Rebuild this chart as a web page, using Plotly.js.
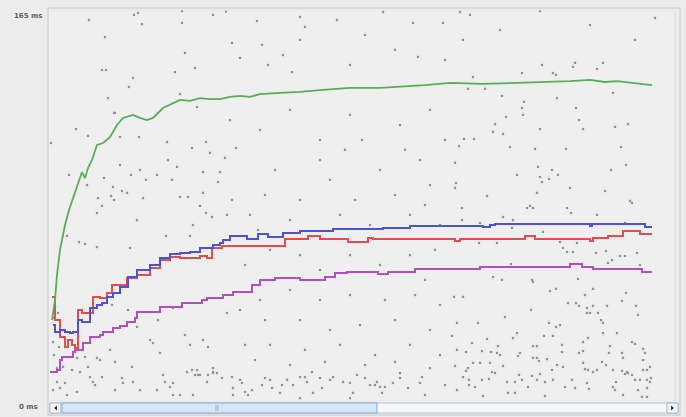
<!DOCTYPE html>
<html>
<head>
<meta charset="utf-8">
<script src="https://cdn.plot.ly/plotly-3.0.1.min.js"></script>
<style>
html,body{margin:0;padding:0;background:#ececec;}
#chart{width:686px;height:417px;}
</style>
</head>
<body>
<div id="chart"></div>
<script>
// Y-axis labels
var yMaxLabel = "165 ms";
var yMinLabel = "0 ms";

// Throughput (green)
var greenSample = [4,7,9,12,15,17,21,25,29,34,37,40,44,49,55,62,69,75,85,92,99,105,115,125,132,142,152,162,172,182,192,202,212,232,252,272,302,332,352,377,402,435,469,502,522,542,557,569,589,604];
var greenMs = [33.8,42.3,52.9,63.5,69.8,74.0,80.4,85.4,90.9,96.4,93.9,98.1,101.5,107.9,108.7,111.2,116.3,119.3,120.6,119.3,118.4,119.3,123.5,125.6,126.9,126.5,127.7,127.3,127.3,128.2,128.6,128.2,129.4,129.9,130.3,131.1,132.0,132.0,132.4,133.2,134.1,133.7,134.1,134.5,134.9,135.4,134.5,134.9,134.1,133.2];

// Average (blue)
var blueSample = [5,7,12,17,22,25,30,34,42,49,54,59,65,72,80,89,102,112,122,132,142,152,165,172,175,182,197,199,209,210,219,220,234,235,249,252,284,285,332,335,359,362,402,435,442,447,540,542,544,595,597,604];
var blueMs = [31.7,28.8,29.6,28.8,28.3,28.8,33.8,33.0,38.9,40.2,41.0,43.6,45.3,47.8,52.0,55.0,57.1,60.1,61.8,62.2,62.6,64.3,65.6,66.4,67.7,69.4,69.4,68.1,68.1,70.2,70.2,68.9,68.9,70.6,70.6,71.5,71.5,72.3,72.3,72.7,72.7,73.6,73.6,73.2,74.0,74.4,74.4,73.6,74.4,74.4,73.2,73.2];

// Deviation (red)
var redSample = [4,7,12,17,20,24,27,30,34,39,45,52,59,64,72,79,89,102,112,122,132,152,159,164,174,235,237,259,260,270,272,299,300,319,320,325,402,407,412,477,487,540,542,545,560,575,592,604];
var redMs = [43.6,33.8,26.6,22.4,25.4,23.3,22.0,38.1,36.8,36.8,43.6,43.1,45.3,48.6,48.6,51.6,52.9,55.8,59.2,60.5,60.1,60.9,60.1,64.3,65.1,65.1,68.1,68.1,69.4,69.4,68.1,68.1,66.8,66.8,68.5,68.1,68.1,67.3,68.1,69.4,68.1,68.1,67.3,68.5,69.4,71.5,70.2,70.2];

// Median (purple)
var purpleSample = [2,9,12,14,25,27,35,42,52,55,65,72,79,87,89,100,112,134,154,159,175,185,204,212,227,252,277,287,299,330,340,367,402,432,522,534,545,594,604];
var purpleMs = [11.8,12.7,16.9,18.2,20.3,21.2,24.1,26.6,27.5,28.8,30.5,31.3,33.0,34.7,37.2,37.2,39.3,41.0,42.3,43.1,44.4,45.7,48.6,50.8,51.6,50.8,52.0,53.7,54.1,53.3,54.1,55.4,55.4,56.3,57.5,56.3,55.4,54.1,54.1];

// Data samples (grey dots)
var dotSample = [
41,86,90,94,134,134,57,137,54,58,85,127,147,81,60,132,149,67,
3,28,40,66,72,91,119,144,158,162,177,188,120,72,92,83,98,109,129,124,155,172,56,21,39,65,74,79,63,50,66,95,132,140,155,170,184,54,49,152,158,164,179,89,145,118,142,19,31,37,49,82,
527,555,494,525,549,474,505,508,425,420,437,565,454,509,476,474,528,475,458,531,447,567,580,492,535,445,455,416,426,411,462,487,518,573,407,578,490,504,563,469,492,510,501,494,408,407,522,557,439,489,582,584,482,479,485,414,519,523,549,465,432,455,414,577,495,464,431,449,512,529,515,519,525,548,558,564,560,572,577,589,592,463,445,454,484,485,508,502,530,545,537,578,406,415,
520,528,531,539,545,559,574,588,539,542,550,483,590,457,409,430,501,508,512,553,555,555,569,404,469,496,505,540,535,439,424,450,465,485,489,514,584,587,562,595,409,418,434,443,449,452,472,470,485,489,491,499,514,531,535,561,574,575,597,595,425,432,442,420,418,455,515,535,537,540,549,554,558,565,574,602,599,595,407,415,444,447,471,484,492,504,509,545,577,579,580,584,587,592,599,603,602,421,421,427,434,441,459,467,474,480,489,497,505,517,524,527,539,541,568,565,567,590,599,599,594,409,435,460,467,497,575,
7,10,6,5,11,6,9,15,9,17,5,12,19,24,29,29,32,37,40,42,45,47,49,52,54,62,64,67,67,74,75,80,84,85,92,102,105,109,112,115,117,122,125,125,132,137,139,142,144,149,152,155,159,160,165,165,174,179,185,192,197,119,125,132,110,89,
145,147,150,160,165,169,184,185,194,197,200,204,214,217,222,224,232,234,239,245,252,257,259,264,265,272,274,282,285,295,302,305,309,317,322,327,329,332,334,337,345,352,352,360,372,374,
165,178,184,209,214,252,257,289,302,317,335,347,365,370,395,397,412,415,252,192,220,235,244,297,314,357,372,332,282,252,217,227,272,307,347,382,377,242,292,322,362,392,202,210,272,252,302,332,362,387,222,197,212,242,272,302,337,367,392,377,192,217,252,282,312,347,382,222,257,292,327,362,392,207,242,277,317,347,382,397,377,302,252,
422,452,492,542,587,607,182,212,242,272,302,352,382,397
];
var dotMs = [
160.7,162.9,163.7,159.0,164.5,159.5,153.5,146.8,139.6,139.6,136.2,138.7,140.4,132.4,127.7,129.4,123.9,121.4,
108.7,114.6,111.7,121.4,111.2,111.2,109.1,106.6,109.1,104.5,102.4,106.6,101.5,99.4,97.3,95.2,93.1,95.2,98.6,93.1,96.4,96.4,93.9,95.2,90.9,90.1,88.4,87.6,86.3,85.4,84.6,85.4,85.9,85.9,87.6,92.2,84.6,82.1,79.1,82.1,79.1,77.4,78.3,76.1,74.0,69.4,69.4,69.4,66.8,66.0,64.7,64.3,
142.6,142.6,141.7,140.9,140.0,138.3,138.3,137.5,136.6,131.6,131.6,129.9,128.6,127.7,126.1,123.5,123.5,120.6,119.7,118.4,116.7,115.5,116.7,114.6,114.6,113.4,112.5,110.4,110.4,107.4,107.0,106.2,106.2,107.0,100.3,99.4,98.6,97.3,97.3,95.2,94.3,95.2,93.5,92.2,91.8,89.7,89.7,88.4,86.3,87.6,84.2,83.3,82.1,81.2,81.2,81.2,81.2,79.1,78.3,76.1,74.9,77.4,76.1,74.9,71.1,72.8,66.4,66.4,66.8,66.4,64.3,62.6,62.6,62.2,63.0,59.2,58.0,60.9,60.9,62.2,57.1,57.5,52.0,50.8,50.8,49.9,47.0,46.1,51.2,47.0,44.4,45.3,43.6,43.6,
41.0,41.0,39.8,38.9,39.8,39.8,41.9,39.8,36.8,36.8,36.8,38.1,36.0,35.1,32.6,32.6,32.6,30.9,31.7,33.8,32.6,28.3,28.3,27.1,28.3,27.1,27.1,26.2,24.5,25.8,24.1,22.8,26.2,22.8,22.8,23.3,24.5,23.7,22.8,21.6,21.2,20.3,20.7,20.3,19.9,19.0,19.9,18.6,17.8,17.8,16.5,17.3,20.3,19.9,20.7,19.9,19.9,17.8,19.9,16.9,15.7,15.7,15.7,13.5,12.3,14.4,14.0,15.7,13.1,12.7,12.7,16.1,14.8,12.7,12.3,14.0,12.7,12.7,14.4,9.7,11.8,11.4,10.6,10.2,11.0,12.7,14.8,11.8,11.0,11.8,11.4,10.6,8.5,8.5,8.5,9.3,7.6,8.5,6.3,5.5,8.5,8.9,7.6,7.6,8.5,5.5,8.5,7.6,8.5,5.5,8.5,5.1,7.2,4.7,7.6,5.5,4.2,4.2,5.1,1.3,1.3,4.2,1.7,3.0,3.0,1.7,2.1,
39.3,36.8,34.7,24.5,22.4,19.0,13.5,14.0,7.6,7.2,4.2,5.1,2.1,12.7,17.8,3.4,11.8,18.2,14.0,9.7,7.6,6.3,17.8,16.9,9.7,21.2,40.2,16.1,4.2,9.3,7.2,38.1,14.0,7.6,4.2,25.4,24.1,4.2,19.9,10.6,7.6,5.5,7.2,2.1,2.1,27.5,11.8,23.3,12.7,12.7,10.6,25.4,7.6,22.4,13.5,11.8,9.3,36.8,2.1,8.5,23.3,39.3,38.9,39.3,33.8,30.9,
2.1,10.6,10.6,10.6,11.4,11.4,9.7,5.1,7.2,3.4,2.1,4.2,6.3,9.3,8.5,5.1,3.0,6.3,8.5,6.3,9.7,9.7,7.6,11.8,3.0,9.3,5.1,8.5,9.7,7.6,7.2,3.0,10.6,9.3,6.3,6.3,7.6,5.5,3.0,5.5,7.2,11.4,9.3,5.1,7.2,9.7,
162.9,164.3,151.0,160.3,150.2,162.0,157.8,160.7,141.7,154.4,164.1,148.1,159.5,145.1,159.5,143.8,164.1,152.3,152.3,144.7,141.7,145.9,138.7,105.8,110.0,105.8,101.5,97.3,93.1,84.6,86.7,97.3,101.5,84.6,86.7,90.9,82.5,76.1,78.3,74.0,78.3,74.0,78.3,71.9,55.0,61.3,61.3,57.1,61.3,63.5,63.5,57.1,42.3,46.5,42.3,44.4,42.3,44.4,40.2,50.8,38.1,33.8,33.8,29.6,31.7,33.8,29.6,23.3,21.2,23.3,19.0,23.3,19.0,16.9,14.8,16.1,14.8,16.1,13.5,6.3,2.1,0.8,0.8,
162.9,156.5,164.5,158.6,152.3,161.6,118.4,114.2,122.7,110.0,120.6,116.3,122.7,110.0
];

// plot frame geometry helpers (pixel -> paper)
var L = 48, T = 8, W = 632, H = 392;
function px(x){ return (x - L) / W; }
function py(y){ return (T + H - y) / H; }

var traces = [
  {x: dotSample, y: dotMs, type: 'scatter', mode: 'markers',
   marker: {size: 2.3, color: '#939393', symbol: 'square'}, hoverinfo: 'skip'},
  {x: purpleSample, y: purpleMs, type: 'scatter', mode: 'lines',
   line: {color: '#b24fc0', width: 2, shape: 'hv'}, hoverinfo: 'skip'},
  {x: redSample, y: redMs, type: 'scatter', mode: 'lines',
   line: {color: '#e24d4d', width: 2, shape: 'hv'}, hoverinfo: 'skip'},
  {x: blueSample, y: blueMs, type: 'scatter', mode: 'lines',
   line: {color: '#5050d6', width: 2, shape: 'hv'}, hoverinfo: 'skip'},
  {x: greenSample, y: greenMs, type: 'scatter', mode: 'lines',
   line: {color: '#5aac5a', width: 1.8}, hoverinfo: 'skip'}
];

var sbTop = py(403), sbBot = py(413);
var shapes = [
  // plot frame
  {type: 'rect', xref: 'paper', yref: 'paper', x0: 0, x1: 1, y0: py(415), y1: 1,
   line: {color: '#c4c8cc', width: 1}, fillcolor: 'rgba(0,0,0,0)'},
  {type: 'line', xref: 'paper', yref: 'paper', x0: px(675), x1: px(675), y0: py(415), y1: py(10),
   line: {color: '#d6d8da', width: 1}},
  {type: 'line', xref: 'paper', yref: 'paper', x0: px(50), x1: px(675), y0: py(10), y1: py(10),
   line: {color: '#e2e4e6', width: 1}},
  // scrollbar track
  {type: 'rect', xref: 'paper', yref: 'paper', x0: px(50), x1: px(678), y0: sbBot, y1: sbTop,
   line: {color: '#b4c2d0', width: 1}, fillcolor: '#f6f7f8'},
  // thumb
  {type: 'rect', xref: 'paper', yref: 'paper', x0: px(62), x1: px(377), y0: sbBot, y1: sbTop,
   line: {color: '#8fa9c6', width: 1}, fillcolor: '#d5e6f7'},
  // thumb grip
  {type: 'line', xref: 'paper', yref: 'paper', x0: px(216), x1: px(216), y0: py(411), y1: py(405),
   line: {color: '#9ab0c8', width: 1}},
  {type: 'line', xref: 'paper', yref: 'paper', x0: px(218), x1: px(218), y0: py(411), y1: py(405),
   line: {color: '#9ab0c8', width: 1}},
  // buttons
  {type: 'rect', xref: 'paper', yref: 'paper', x0: px(50), x1: px(61), y0: sbBot, y1: sbTop,
   line: {color: '#a8b8c8', width: 1}, fillcolor: '#f2f5f8'},
  {type: 'rect', xref: 'paper', yref: 'paper', x0: px(667), x1: px(678), y0: sbBot, y1: sbTop,
   line: {color: '#a8b8c8', width: 1}, fillcolor: '#f2f5f8'},
  // arrows
  {type: 'path', xref: 'paper', yref: 'paper',
   path: 'M ' + px(54) + ' ' + py(408) + ' L ' + px(57) + ' ' + py(405.5) + ' L ' + px(57) + ' ' + py(410.5) + ' Z',
   fillcolor: '#333', line: {width: 0}},
  {type: 'path', xref: 'paper', yref: 'paper',
   path: 'M ' + px(674) + ' ' + py(408) + ' L ' + px(671) + ' ' + py(405.5) + ' L ' + px(671) + ' ' + py(410.5) + ' Z',
   fillcolor: '#333', line: {width: 0}}
];

var annotations = [
  {xref: 'paper', yref: 'paper', x: px(45), y: py(16), xanchor: 'right', yanchor: 'middle',
   text: '<b>' + yMaxLabel + '</b>', showarrow: false, font: {family: 'DejaVu Sans, Arial', size: 7, color: '#606060'}},
  {xref: 'paper', yref: 'paper', x: px(40), y: py(407), xanchor: 'right', yanchor: 'middle',
   text: '<b>' + yMinLabel + '</b>', showarrow: false, font: {family: 'DejaVu Sans, Arial', size: 7, color: '#606060'}}
];

var layout = {
  width: 686, height: 417,
  margin: {l: 48, r: 6, t: 8, b: 17, pad: 0},
  paper_bgcolor: '#ececec',
  plot_bgcolor: '#efefef',
  showlegend: false,
  xaxis: {range: [0, 632], showgrid: false, zeroline: false, showticklabels: false,
          ticks: '', showline: false, fixedrange: true},
  yaxis: {range: [0, 165.8], showgrid: false, zeroline: false, showticklabels: false,
          ticks: '', showline: false, fixedrange: true},
  shapes: shapes,
  annotations: annotations
};

Plotly.newPlot('chart', traces, layout, {displayModeBar: false, staticPlot: true});
</script>
</body>
</html>
